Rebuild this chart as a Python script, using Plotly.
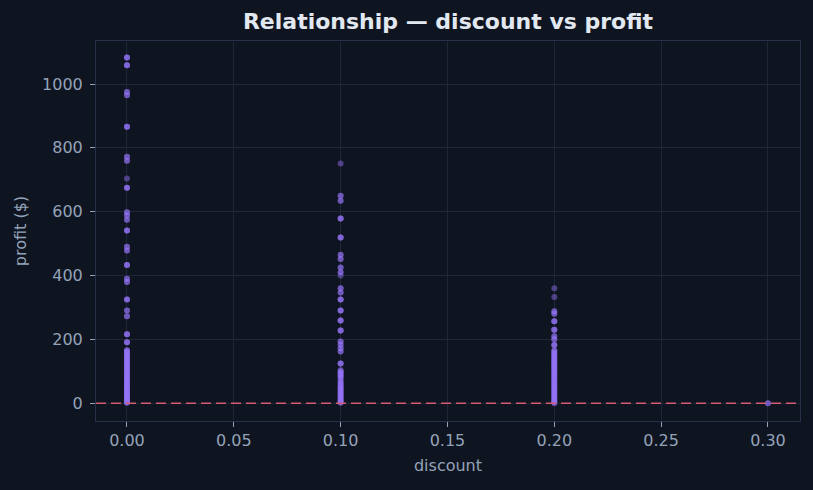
import plotly.graph_objects as go

# profit values read per discount level; repeated values = overlapping rows
profit_d00 = [1083, 1083, 1083, 1059, 1059, 1059, 975, 975, 965, 965, 866, 866, 866,
              772, 772, 760, 760, 704, 675, 675, 675, 598, 598, 588, 588, 575, 575,
              541, 541, 541, 490, 490, 478, 478, 433, 433, 433, 390, 390, 380, 380,
              325, 325, 325, 290, 290, 272, 272, 216, 216, 216, 191, 191, 191,
              166, 162, 158, 153, 150, 146, 141, 137, 133, 129, 124, 120, 117, 112,
              108, 104, 99, 96, 92, 87, 83, 79, 75, 71, 68, 63, 59, 55, 51, 47, 44,
              40, 36, 31, 28, 24, 20, 17, 13, 9, 6, 3, 1,
              166, 160, 151, 143, 135, 126, 118, 110, 101, 93, 85, 77, 69, 61, 52,
              45, 37, 29, 22, 14, 8, 2]
profit_d10 = [751, 650, 650, 634, 634, 579, 579, 579, 519, 519, 519, 465, 465, 452, 452,
              425, 425, 410, 410, 400, 360, 360, 347, 347, 325, 325, 325, 290, 290, 290,
              259, 259, 259, 228, 228, 228, 193, 193, 183, 183, 172, 172, 162, 162,
              124, 124, 124, 104, 98, 95, 90, 86, 81, 76, 72, 63, 58, 54, 49, 44, 40,
              35, 31, 26, 22, 17, 13, 9, 5, 2,
              101, 93, 84, 67, 61, 50, 42, 33, 24, 15, 7, 1]
profit_d20 = [360, 333, 288, 288, 280, 280, 257, 257, 257, 230, 230, 230, 210, 210,
              200, 200, 182, 182, 182,
              166, 161, 157, 152, 148, 143, 139, 134, 130, 125, 121, 116, 112, 107,
              103, 98, 94, 89, 85, 80, 76, 71, 67, 62, 58, 53, 49, 44, 40, 35, 31,
              26, 22, 17, 13, 9, 5, 2,
              164, 155, 146, 137, 128, 119, 110, 101, 92, 83, 74, 65, 56, 47, 38,
              29, 20, 11, 4, 0]
profit_d30 = [0, 0]

discount = ([0.0] * len(profit_d00) + [0.1] * len(profit_d10)
            + [0.2] * len(profit_d20) + [0.3] * len(profit_d30))
profit = profit_d00 + profit_d10 + profit_d20 + profit_d30

BG = "#0f1421"
GRID = "#1e2638"
TXT = "#94a3b8"

fig = go.Figure()
fig.add_trace(go.Scatter(
    x=discount, y=profit, mode="markers",
    marker=dict(size=6, color="#9676fa", opacity=0.45),
    hovertemplate="discount %{x}<br>profit $%{y}<extra></extra>",
    showlegend=False,
))
fig.add_hline(y=0, line=dict(color="#d25a72", width=1.5, dash="10px,5px"))

axis = dict(showgrid=True, gridcolor=GRID, gridwidth=1, zeroline=False,
            showline=True, linecolor="#263049", linewidth=1, mirror=True,
            ticks="outside", ticklen=5, tickcolor=TXT,
            tickfont=dict(color=TXT, size=16), title_font=dict(color=TXT, size=16))

fig.update_layout(
    title=dict(text="<b>Relationship — discount vs profit</b>", x=0.551, xanchor="center",
               y=0.957, yanchor="middle", font=dict(size=22, color="#e2e8f0")),
    font=dict(family="DejaVu Sans"),
    paper_bgcolor=BG, plot_bgcolor=BG,
    width=813, height=490,
    margin=dict(l=96, r=13, t=41, b=69),
    xaxis=dict(axis, title=dict(text="discount", standoff=10), range=[-0.0145, 0.315],
               tickformat=".2f", dtick=0.05),
    yaxis=dict(axis, title=dict(text="profit ($)", standoff=11), range=[-56, 1135],
               dtick=200, ticklabelstandoff=4),
)

fig.write_html("out.html", config={"displayModeBar": False},
               post_script="document.body.style.margin='0';")
